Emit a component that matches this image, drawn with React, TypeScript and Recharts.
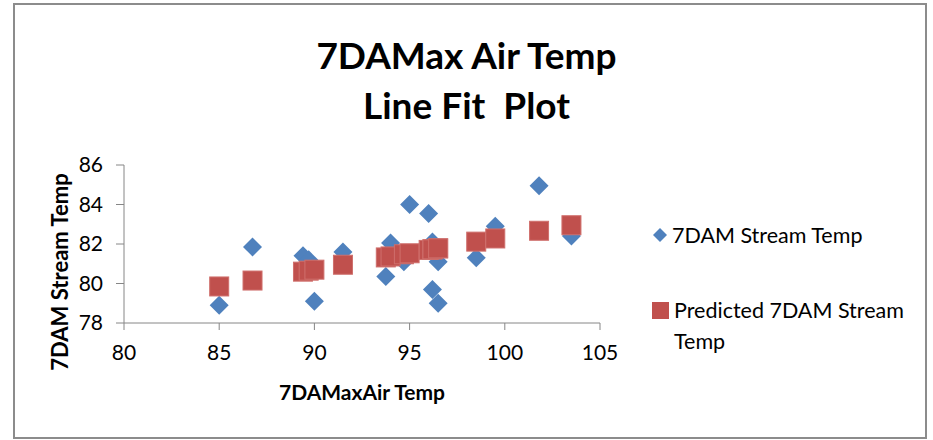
import React from 'react';
import { ScatterChart, Scatter, XAxis, YAxis, Legend } from 'recharts';

const airTemp = [85.0, 86.75, 89.4, 89.7, 90.0, 91.5, 93.75, 94.0, 94.7, 95.0, 96.0, 96.2, 96.5, 96.2, 96.5, 98.5, 99.5, 101.8, 103.5];
const streamTemp = [78.9, 81.85, 81.4, 81.2, 79.1, 81.6, 80.35, 82.05, 81.1, 84.0, 83.55, 82.1, 81.1, 79.7, 79.0, 81.3, 82.9, 84.95, 82.4];
const predictedTemp = [79.85, 80.15, 80.6, 80.65, 80.7, 80.95, 81.32, 81.37, 81.48, 81.53, 81.7, 81.73, 81.78, 81.73, 81.78, 82.12, 82.28, 82.67, 82.95];

const xTicks = [80, 85, 90, 95, 100, 105];
const yTicks = [78, 80, 82, 84, 86];

const seriesNames = ['7DAM Stream Temp', 'Predicted 7DAM Stream Temp'];
const BLUE = '#4F81BD';
const RED = '#C0504D';
const AXIS = '#868686';
const FONT = 'Lato, Carlito, Calibri, sans-serif';

const actualData = airTemp.map((x, i) => ({ x, y: streamTemp[i] }));
const predictedData = airTemp.map((x, i) => ({ x, y: predictedTemp[i] }));

const Diamond = (props: any) => {
  const { cx, cy } = props;
  const r = 9.5;
  return (
    <polygon
      points={`${cx},${cy - r} ${cx + r},${cy} ${cx},${cy + r} ${cx - r},${cy}`}
      fill={BLUE}
    />
  );
};

const Square = (props: any) => {
  const { cx, cy } = props;
  const s = 19;
  return <rect x={cx - s / 2} y={cy - s / 2} width={s} height={s} fill={RED} stroke="#cf6f6c" strokeWidth={1} />;
};

const LegendContent = () => (
  <div style={{ fontFamily: FONT, fontSize: 21.5, color: '#000', width: 260 }}>
    <div style={{ display: 'flex', alignItems: 'center', height: 30 }}>
      <svg width={16} height={16} style={{ marginRight: 4 }}>
        <polygon points="8,1 15,8 8,15 1,8" fill={BLUE} />
      </svg>
      <span>{seriesNames[0]}</span>
    </div>
    <div style={{ display: 'flex', alignItems: 'flex-start', marginTop: 45, lineHeight: '31px' }}>
      <svg width={18} height={18} style={{ marginRight: 4, marginTop: 7, flex: 'none' }}>
        <rect x={0} y={0} width={17} height={17} fill={RED} />
      </svg>
      <span>{seriesNames[1]}</span>
    </div>
  </div>
);

export default function App() {
  return (
    <div style={{ position: 'absolute', left: 0, top: 0, width: 933, height: 440, background: '#fff' }}>
      <div
        style={{
          position: 'absolute',
          left: 13,
          top: 3,
          width: 910,
          height: 432,
          border: `2px solid #8c8c8c`,
        }}
      />
      <div
        style={{
          position: 'absolute',
          left: 0,
          width: 933,
          top: 30,
          textAlign: 'center',
          fontFamily: FONT,
          fontWeight: 700,
          fontSize: 37,
          lineHeight: '50px',
          color: '#000',
        }}
      >
        <div>7DAMax Air Temp</div>
        <div>Line Fit&nbsp; Plot</div>
      </div>
      <div
        style={{
          position: 'absolute',
          left: 362 - 150,
          width: 300,
          top: 379,
          textAlign: 'center',
          fontFamily: FONT,
          fontWeight: 700,
          fontSize: 21,
          color: '#000',
        }}
      >
        7DAMaxAir Temp
      </div>
      <div
        style={{
          position: 'absolute',
          left: 60 - 150,
          top: 272 - 13,
          width: 300,
          height: 26,
          lineHeight: '26px',
          textAlign: 'center',
          transform: 'rotate(-90deg)',
          fontFamily: FONT,
          fontWeight: 700,
          fontSize: 22,
          color: '#000',
        }}
      >
        7DAM Stream Temp
      </div>
      <div style={{ position: 'absolute', left: 0, top: 0 }}>
        <ScatterChart width={933} height={440} margin={{ top: 165, right: 333, bottom: 77, left: 64 }}>
          <XAxis
            type="number"
            dataKey="x"
            domain={[80, 105]}
            ticks={xTicks}
            allowDataOverflow
            height={40}
            stroke={AXIS}
            tickLine={{ stroke: AXIS }}
            tickSize={7}
            tickMargin={15}
            tick={{ fill: '#000', fontFamily: FONT, fontSize: 21 }}
          />
          <YAxis
            type="number"
            dataKey="y"
            domain={[78, 86]}
            ticks={yTicks}
            allowDataOverflow
            width={60}
            stroke={AXIS}
            tickLine={{ stroke: AXIS }}
            tickSize={8}
            tickMargin={13}
            tick={{ fill: '#000', fontFamily: FONT, fontSize: 21 }}
          />
          <Legend
            layout="vertical"
            verticalAlign="middle"
            align="center"
            wrapperStyle={{ position: 'absolute', left: 652, top: 220, width: 260 }}
            content={<LegendContent />}
          />
          <Scatter name={seriesNames[0]} data={actualData} shape={<Diamond />} isAnimationActive={false} />
          <Scatter name={seriesNames[1]} data={predictedData} shape={<Square />} isAnimationActive={false} />
        </ScatterChart>
      </div>
    </div>
  );
}
